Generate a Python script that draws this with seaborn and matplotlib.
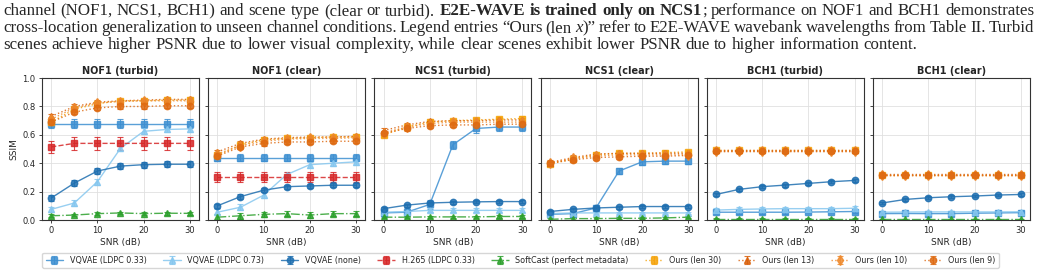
import matplotlib
matplotlib.use("Agg")
import numpy as np
import pandas as pd
import seaborn as sns
import matplotlib.pyplot as plt
from matplotlib.transforms import IdentityTransform

sns.set_theme(style="ticks", rc={"axes.grid": True, "grid.color": ".88", "grid.linewidth": 0.6})
plt.rcParams['font.family'] = ['DejaVu Sans']

snr = [0, 5, 10, 15, 20, 25, 30]
panels = ["NOF1 (turbid)", "NOF1 (clear)", "NCS1 (turbid)", "NCS1 (clear)", "BCH1 (turbid)", "BCH1 (clear)"]

# SSIM per panel (rows in panel order)
vq033 = [
    [0.68, 0.68, 0.68, 0.68, 0.68, 0.68, 0.68],
    [0.44, 0.44, 0.44, 0.44, 0.44, 0.44, 0.44],
    [0.05, 0.055, 0.11, 0.53, 0.645, 0.655, 0.655],
    [0.04, 0.045, 0.085, 0.345, 0.41, 0.415, 0.415],
    [0.055, 0.055, 0.055, 0.055, 0.056, 0.058, 0.06],
    [0.045, 0.046, 0.045, 0.045, 0.048, 0.05, 0.052],
]
vq073 = [
    [0.075, 0.12, 0.27, 0.505, 0.625, 0.638, 0.642],
    [0.055, 0.09, 0.175, 0.32, 0.39, 0.40, 0.41],
    [0.055, 0.06, 0.068, 0.068, 0.068, 0.068, 0.068],
    [0.045, 0.05, 0.05, 0.05, 0.05, 0.05, 0.05],
    [0.07, 0.075, 0.078, 0.08, 0.08, 0.08, 0.083],
    [0.055, 0.056, 0.057, 0.057, 0.057, 0.057, 0.058],
]
vqnone = [
    [0.155, 0.26, 0.345, 0.38, 0.39, 0.393, 0.393],
    [0.10, 0.165, 0.21, 0.235, 0.24, 0.245, 0.245],
    [0.08, 0.105, 0.12, 0.125, 0.128, 0.13, 0.13],
    [0.06, 0.075, 0.085, 0.09, 0.095, 0.095, 0.095],
    [0.18, 0.216, 0.235, 0.246, 0.258, 0.27, 0.279],
    [0.12, 0.145, 0.157, 0.164, 0.169, 0.176, 0.18],
]
h265 = [
    [0.515, 0.54, 0.54, 0.54, 0.54, 0.54, 0.54],
    [0.30, 0.30, 0.30, 0.30, 0.30, 0.30, 0.30],
    [np.nan] * 7,
    [np.nan] * 7,
    [np.nan] * 7,
    [np.nan] * 7,
]
softcast = [
    [0.03, 0.035, 0.045, 0.05, 0.045, 0.048, 0.047],
    [0.02, 0.03, 0.04, 0.045, 0.035, 0.045, 0.045],
    [0.02, 0.02, 0.022, 0.022, 0.022, 0.025, 0.025],
    [0.005, 0.01, 0.01, 0.012, 0.012, 0.015, 0.02],
    [0.01, 0.01, 0.01, 0.01, 0.01, 0.01, 0.01],
    [0.005, 0.005, 0.005, 0.005, 0.005, 0.005, 0.005],
]
ours30 = [
    [0.69, 0.78, 0.82, 0.84, 0.84, 0.845, 0.845],
    [0.455, 0.53, 0.565, 0.575, 0.58, 0.585, 0.585],
    [0.60, 0.655, 0.69, 0.70, 0.705, 0.71, 0.715],
    [0.395, 0.43, 0.46, 0.47, 0.47, 0.475, 0.48],
    [0.49, 0.49, 0.49, 0.49, 0.49, 0.49, 0.49],
    [0.32, 0.32, 0.32, 0.32, 0.32, 0.32, 0.32],
]
ours13 = [
    [0.73, 0.80, 0.83, 0.84, 0.845, 0.85, 0.85],
    [0.48, 0.54, 0.57, 0.58, 0.585, 0.585, 0.59],
    [0.63, 0.67, 0.695, 0.70, 0.70, 0.705, 0.705],
    [0.405, 0.44, 0.465, 0.47, 0.47, 0.47, 0.47],
    [0.49, 0.49, 0.49, 0.49, 0.49, 0.49, 0.49],
    [0.322, 0.322, 0.322, 0.322, 0.322, 0.322, 0.322],
]
ours10 = [
    [0.71, 0.79, 0.825, 0.835, 0.84, 0.84, 0.84],
    [0.465, 0.525, 0.555, 0.57, 0.575, 0.575, 0.58],
    [0.615, 0.655, 0.68, 0.69, 0.69, 0.69, 0.69],
    [0.40, 0.435, 0.45, 0.46, 0.46, 0.46, 0.46],
    [0.488, 0.488, 0.488, 0.488, 0.488, 0.488, 0.488],
    [0.32, 0.32, 0.32, 0.32, 0.32, 0.32, 0.32],
]
ours9 = [
    [0.69, 0.76, 0.79, 0.80, 0.80, 0.805, 0.805],
    [0.45, 0.515, 0.54, 0.55, 0.55, 0.555, 0.555],
    [0.61, 0.645, 0.665, 0.67, 0.67, 0.675, 0.675],
    [0.40, 0.425, 0.44, 0.445, 0.45, 0.45, 0.455],
    [0.487, 0.487, 0.487, 0.487, 0.487, 0.487, 0.487],
    [0.318, 0.318, 0.318, 0.318, 0.318, 0.318, 0.318],
]

# error bar half-widths per panel
err_vq033 = [0.03, 0.025, 0.03, 0.02, 0.01, 0.01]
err_vq073 = [0.02, 0.02, 0.015, 0.01, 0.015, 0.01]
err_vqnone = [0.02, 0.015, 0.01, 0.01, 0.01, 0.01]
err_h265 = [0.045, 0.035, 0, 0, 0, 0]
err_softcast = [0.01, 0.02, 0.008, 0.008, 0.005, 0.005]
err_ours = [0.015, 0.015, 0.015, 0.015, 0.012, 0.012]

methods = [
    ("VQVAE (LDPC 0.33)", vq033, err_vq033, "#3d8fd1", "s", "-"),
    ("VQVAE (LDPC 0.73)", vq073, err_vq073, "#86c7ef", "^", "-"),
    ("VQVAE (none)", vqnone, err_vqnone, "#1f6fb0", "o", "-"),
    ("H.265 (LDPC 0.33)", h265, err_h265, "#d62728", "s", "--"),
    ("SoftCast (perfect metadata)", softcast, err_softcast, "#2ca02c", "^", "-."),
    ("Ours (len 30)", ours30, err_ours, "#f5a30a", "s", ":"),
    ("Ours (len 13)", ours13, err_ours, "#d9600a", "^", ":"),
    ("Ours (len 10)", ours10, err_ours, "#ee8a2e", "d", ":"),
    ("Ours (len 9)", ours9, err_ours, "#de6a12", "o", ":"),
]

fig, axes = plt.subplots(1, 6, figsize=(10.41, 2.74), dpi=100, sharey=True)
fig.subplots_adjust(left=0.0403, right=0.9894, top=0.715, bottom=0.197, wspace=0.058)

handles = []
for p, ax in enumerate(axes):
    for name, vals, errs, color, marker, ls in methods:
        h = ax.errorbar(snr, vals[p], yerr=errs[p], color=color, marker=marker, ls=ls,
                        lw=1.0, ms=4.6, capsize=2.2, elinewidth=0.8, capthick=0.8,
                        alpha=0.85, label=name)
        if p == 0:
            handles.append(h)
    ax.set_title(panels[p], fontsize=7, fontweight="bold", pad=3)
    ax.set_xlim(-2, 32)
    ax.set_ylim(0, 1.0)
    ax.set_xticks([0, 10, 20, 30])
    ax.set_yticks([0.0, 0.2, 0.4, 0.6, 0.8, 1.0])
    ax.tick_params(labelsize=6, length=2.5, width=0.6, pad=2)
    ax.set_xlabel("SNR (dB)", fontsize=6.5, labelpad=2)
    for s in ax.spines.values():
        s.set_color("0.2")
        s.set_linewidth(0.8)
axes[0].set_ylabel("SSIM", fontsize=6.5, labelpad=3)

fig.legend(handles, [m[0] for m in methods], loc="center", bbox_to_anchor=(0.5, 0.05),
           ncol=10, fontsize=5.8, frameon=True, handlelength=2.2, columnspacing=2.05,
           borderpad=0.4)

# caption text above the figure (justified lines)
caption = [
    [("channel (NOF1, NCS1, BCH1) and scene type (clear or turbid). ", "normal", "normal"),
     ("E2E-WAVE is trained only on NCS1", "bold", "normal"),
     ("; performance on NOF1 and BCH1 demonstrates", "normal", "normal")],
    [("cross-location generalization to unseen channel conditions. Legend entries \u201cOurs (len ", "normal", "normal"),
     ("x", "normal", "italic"),
     (")\u201d refer to E2E-WAVE wavebank wavelengths from Table II. Turbid", "normal", "normal")],
    [("scenes achieve higher PSNR due to lower visual complexity, while clear scenes exhibit lower PSNR due to higher information content.", "normal", "normal")],
]
justify = [True, True, False]
baselines = [15, 32, 49]
x_left, x_right = 3, 1034
cap_font = dict(family=["Liberation Serif", "DejaVu Serif"], fontsize=12.15)

renderer = fig.canvas.get_renderer()


def split_words(runs):
    words, cur = [], []
    for text, weight, style in runs:
        seg = ""
        for ch in text:
            if ch == " ":
                if seg:
                    cur.append((seg, weight, style))
                    seg = ""
                if cur:
                    words.append(cur)
                    cur = []
            else:
                seg += ch
        if seg:
            cur.append((seg, weight, style))
    if cur:
        words.append(cur)
    return words


def text_width(s, weight, style):
    t = fig.text(0, 0, s, fontweight=weight, fontstyle=style, **cap_font)
    w = t.get_window_extent(renderer).width
    t.remove()
    return w


space_w = text_width("a a", "normal", "normal") - text_width("aa", "normal", "normal")

for runs, just, base in zip(caption, justify, baselines):
    words = split_words(runs)
    widths = [[text_width(s, w, st) for s, w, st in word] for word in words]
    total = sum(sum(ws) for ws in widths)
    gap = (x_right - x_left - total) / (len(words) - 1) if just else space_w
    x = x_left
    for word, ws in zip(words, widths):
        for (s, w, st), sw in zip(word, ws):
            fig.text(x, 274 - base, s, fontweight=w, fontstyle=st, va="baseline",
                     transform=IdentityTransform(), **cap_font)
            x += sw
        x += gap

fig.savefig("out.png", dpi=100)
